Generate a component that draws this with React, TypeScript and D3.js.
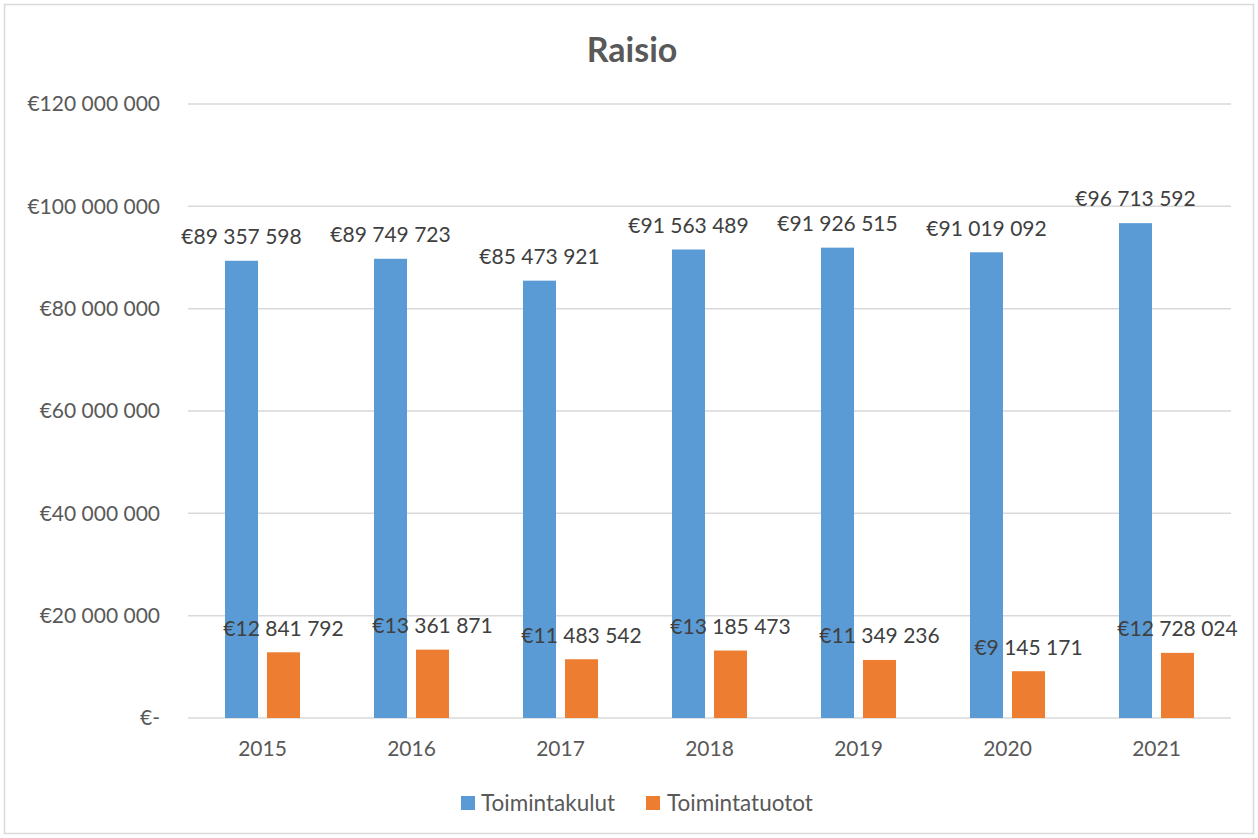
import React from "react";
import * as d3 from "d3";

const years = ["2015", "2016", "2017", "2018", "2019", "2020", "2021"];
const toimintakulut = [89357598, 89749723, 85473921, 91563489, 91926515, 91019092, 96713592];
const toimintatuotot = [12841792, 13361871, 11483542, 13185473, 11349236, 9145171, 12728024];
const yTicks = [0, 20000000, 40000000, 60000000, 80000000, 100000000, 120000000];
const seriesNames = ["Toimintakulut", "Toimintatuotot"];
const colors = ["#5b9bd5", "#ed7d31"];

const W = 1258, H = 838;
const FONT = "Lato, 'Open Sans', sans-serif";

function fmt(v: number): string {
  if (v === 0) return "€-";
  const s = Math.round(v).toString().replace(/\B(?=(\d{3})+(?!\d))/g, " ");
  return "€" + s;
}

export default function App() {
  const left = 188, right = 1231, top = 104, bottom = 718;
  const x = d3.scaleBand<string>().domain(years).range([left, right]).paddingInner(0).paddingOuter(0);
  const y = d3.scaleLinear().domain([0, 120000000]).range([bottom, top]);
  const bw = 33, gap = 9;
  const groupW = bw * 2 + gap;
  const series = [toimintakulut, toimintatuotot];

  return (
    <svg width={W} height={H} style={{ position: "absolute", left: 0, top: 0, display: "block" }} fontFamily={FONT}>
      <rect x={0} y={0} width={W} height={H} fill="#fff" />
      <rect x={4.5} y={4.5} width={W - 9} height={H - 9} fill="none" stroke="#d9d9d9" strokeWidth={1.5} />
      <text x={632} y={50} dy="0.35em" textAnchor="middle" fontSize={34} fontWeight="bold" fill="#595959">Raisio</text>
      {yTicks.map((t) => (
        <g key={t}>
          <line x1={left} x2={right} y1={y(t)} y2={y(t)} stroke="#d9d9d9" strokeWidth={1.5} />
          <text x={160} y={y(t)} dy="0.35em" textAnchor="end" fontSize={21} fill="#595959">{fmt(t)}</text>
        </g>
      ))}
      {years.map((yr, i) => {
        const x0 = (x(yr) as number) + (x.bandwidth() - groupW) / 2;
        return (
          <g key={yr}>
            {series.map((s, j) => {
              const bx = x0 + j * (bw + gap);
              const v = s[i];
              return (
                <g key={j}>
                  <rect x={bx} y={y(v)} width={bw} height={bottom - y(v)} fill={colors[j]} />
                  <text x={bx + bw / 2} y={y(v) - 24} dy="0.35em" textAnchor="middle" fontSize={21} fill="#404040">{fmt(v)}</text>
                </g>
              );
            })}
            <text x={(x(yr) as number) + x.bandwidth() / 2} y={749} dy="0.35em" textAnchor="middle" fontSize={21} fill="#595959">{yr}</text>
          </g>
        );
      })}
      <g>
        <rect x={461} y={796} width={14} height={14} fill={colors[0]} />
        <text x={481} y={803} dy="0.35em" fontSize={22.5} fill="#595959">{seriesNames[0]}</text>
        <rect x={646} y={796} width={14} height={14} fill={colors[1]} />
        <text x={667} y={803} dy="0.35em" fontSize={22.5} fill="#595959">{seriesNames[1]}</text>
      </g>
    </svg>
  );
}
